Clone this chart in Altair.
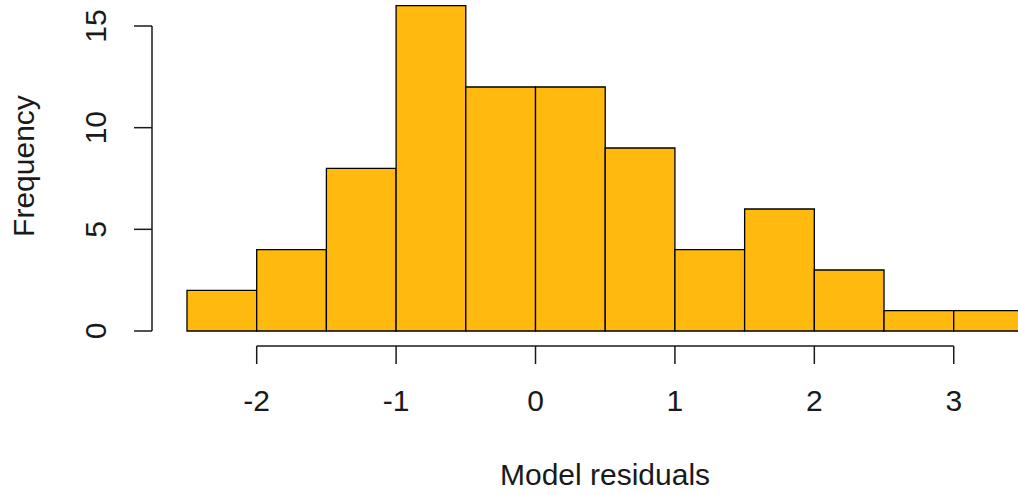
import altair as alt
import pandas as pd

# Histogram of model residuals (bin width 0.5)
bin_starts = [-2.5, -2.0, -1.5, -1.0, -0.5, 0.0, 0.5, 1.0, 1.5, 2.0, 2.5, 3.0]
counts = [2, 4, 8, 16, 12, 12, 9, 4, 6, 3, 1, 1]
bin_width = 0.5

x_ticks = [-2, -1, 0, 1, 2, 3]
y_ticks = [0, 5, 10, 15]

FONT = "Liberation Sans"
FILL = "#FFB90F"
INK = "#1a1a1a"

# plot region geometry
LEFT, WIDTH, HEIGHT, BOTTOM = 152, 866, 346, 149
x_dom = [-2.751, 3.461]
y_dom = [-0.738, 16.279]

bars = pd.DataFrame({
    "start": bin_starts,
    "end": [s + bin_width for s in bin_starts],
    "count": counts,
})
xt = pd.DataFrame({"v": x_ticks, "lab": [str(v) for v in x_ticks]})
yt = pd.DataFrame({"v": y_ticks, "lab": [str(v) for v in y_ticks]})

xs = alt.Scale(domain=x_dom, nice=False, zero=False)
ys = alt.Scale(domain=y_dom, nice=False, zero=False)

hist = alt.Chart(bars).mark_rect(
    fill=FILL, stroke="black", strokeWidth=1.3, clip=True
).encode(
    x=alt.X("start:Q", scale=xs, axis=None),
    x2="end:Q",
    y=alt.Y("count:Q", scale=ys, axis=None),
    y2=alt.datum(0),
)

# x axis: line from first to last tick, ticks, labels
x_line = alt.Chart(pd.DataFrame({"a": [x_ticks[0]], "b": [x_ticks[-1]]})).mark_rule(
    color=INK, strokeWidth=1.5
).encode(
    x=alt.X("a:Q", scale=xs, axis=None), x2="b:Q", y=alt.value(HEIGHT)
)
x_tick_marks = alt.Chart(xt).mark_rule(color=INK, strokeWidth=1.5).encode(
    x=alt.X("v:Q", scale=xs, axis=None), y=alt.value(HEIGHT), y2=alt.value(HEIGHT + 18)
)
x_labels = alt.Chart(xt).mark_text(
    font=FONT, fontSize=30, color=INK, align="center", baseline="middle"
).encode(
    x=alt.X("v:Q", scale=xs, axis=None), y=alt.value(HEIGHT + 56), text="lab:N"
)

# y axis: line from first to last tick, ticks, rotated labels
y_line = alt.Chart(pd.DataFrame({"a": [y_ticks[0]], "b": [y_ticks[-1]]})).mark_rule(
    color=INK, strokeWidth=1.5
).encode(
    y=alt.Y("a:Q", scale=ys, axis=None), y2="b:Q", x=alt.value(0)
)
y_tick_marks = alt.Chart(yt).mark_rule(color=INK, strokeWidth=1.5).encode(
    y=alt.Y("v:Q", scale=ys, axis=None), x=alt.value(-18), x2=alt.value(0)
)
y_labels = alt.Chart(yt).mark_text(
    font=FONT, fontSize=30, color=INK, align="center", baseline="middle", angle=270
).encode(
    y=alt.Y("v:Q", scale=ys, axis=None), x=alt.value(-55), text="lab:N"
)

# axis titles
x_title = alt.Chart(pd.DataFrame({"t": ["Model residuals"]})).mark_text(
    font=FONT, fontSize=30, color=INK, align="center", baseline="middle"
).encode(x=alt.value(453), y=alt.value(476), text="t:N")
y_title = alt.Chart(pd.DataFrame({"t": ["Frequency"]})).mark_text(
    font=FONT, fontSize=30, color=INK, align="center", baseline="middle", angle=270
).encode(x=alt.value(-127), y=alt.value(166), text="t:N")

chart = alt.layer(
    hist, x_line, x_tick_marks, x_labels, y_line, y_tick_marks, y_labels, x_title, y_title
).properties(
    width=WIDTH,
    height=HEIGHT,
    autosize=alt.AutoSizeParams(type="none"),
    padding={"left": LEFT, "top": 0, "right": 0, "bottom": BOTTOM},
    background="white",
).configure_view(stroke=None)

chart.save("out.html", embed_options={"renderer": "svg", "actions": False})
